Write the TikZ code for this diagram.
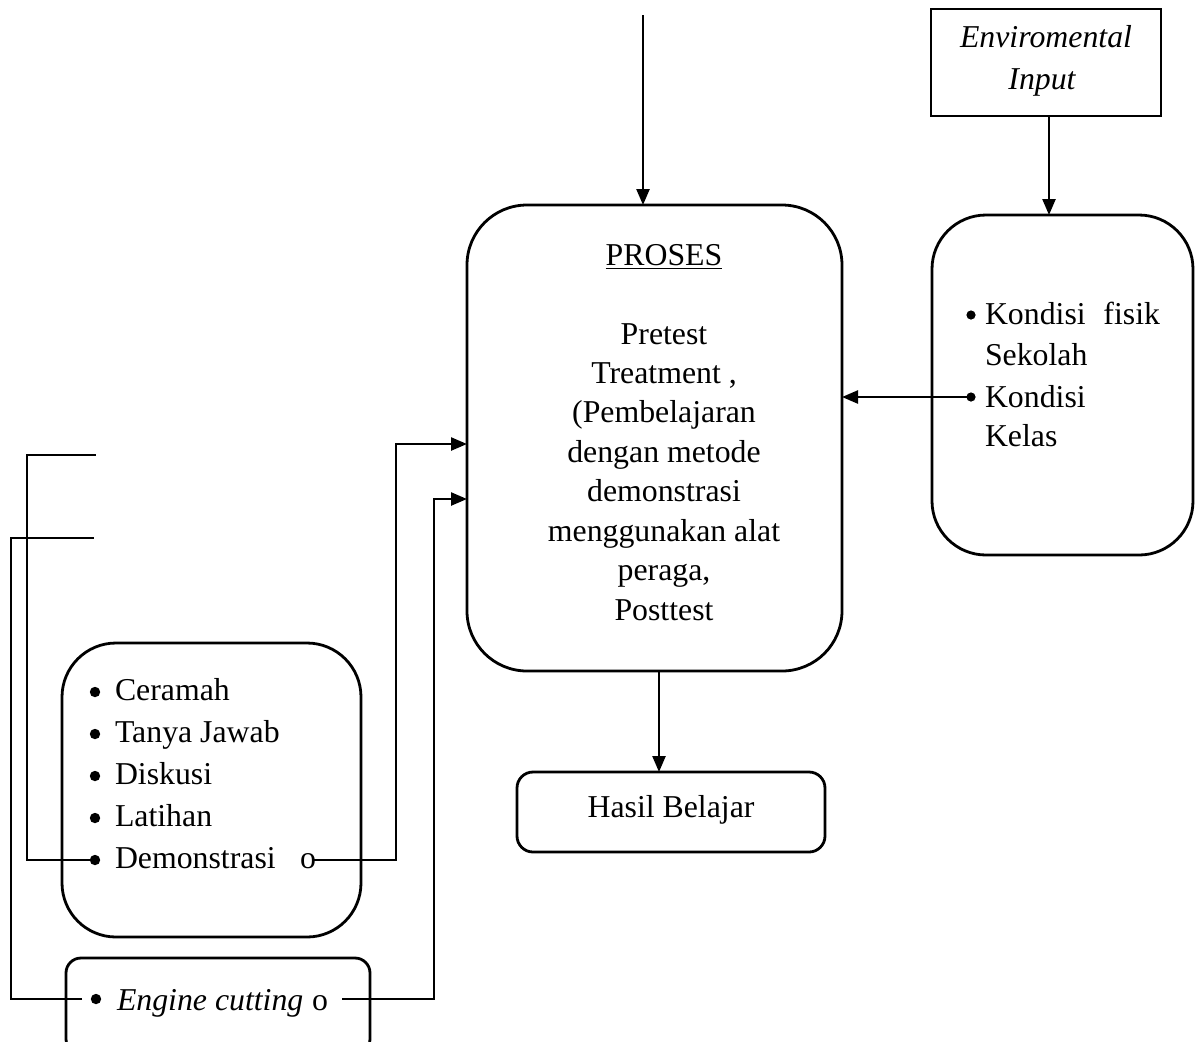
\documentclass[tikz,border=0pt]{standalone}
\usepackage{fontspec}
\setmainfont{Liberation Serif}
\usetikzlibrary{arrows.meta}
\begin{document}
\begin{tikzpicture}[x=0.5pt,y=-0.5pt,
  every node/.style={font=\fontsize{15.9}{20}\selectfont, inner sep=0pt, outer sep=0pt},
  boxr/.style={draw, line width=1.4pt, rounded corners=#1},
  arr/.style={line width=1.2pt, -{Triangle[length=8pt,width=6.5pt]}},
  thinln/.style={line width=0.7pt},
  lt/.style={anchor=base west},
  ct/.style={anchor=base},
  dot/.style={circle, fill, minimum size=5.2pt},
]
\useasboundingbox (0,0) rectangle (1200,1041);

% boxes
\node[boxr=30pt, minimum width=187.5pt, minimum height=233pt] (proses) at (654.5,438) {};
\node[boxr=8pt, minimum width=154pt, minimum height=40pt] (hasil) at (671,812) {};
\node[draw, line width=1.4pt, minimum width=115pt, minimum height=53.5pt] (env) at (1046,62.5) {};
\node[boxr=27pt, minimum width=130.5pt, minimum height=170pt] (kond) at (1062.5,385) {};
\node[boxr=27pt, minimum width=149.5pt, minimum height=147pt] (metode) at (211.5,790) {};
\node[boxr=7.5pt, minimum width=152pt, minimum height=48pt] (engine) at (218,1006) {};

% PROSES text
\node[ct] (ptitle) at (664,265) {\underline{PROSES}};
\foreach \t [count=\i] in {{Pretest},{Treatment ,},{(Pembelajaran},{dengan metode},{demonstrasi},{menggunakan alat},{peraga,},{Posttest}}
  \node[ct] (p\i) at (664,{344+(\i-1)*39.43}) {\t};

% Hasil Belajar
\node[ct] (htext) at (671,817) {Hasil Belajar};

% Environmental Input
\node[ct] (e1) at (1046,47) {\itshape Enviromental};
\node[ct] (e2) at (1042,89) {\itshape Input};

% Kondisi
\node[dot, minimum size=4.6pt] (kb1) at (971,315) {};
\node[lt] (k1) at (985,324) {Kondisi};
\node[anchor=base east] (k1b) at (1160,324) {fisik};
\node[lt] (k2) at (985,365) {Sekolah};
\node[dot, minimum size=4.6pt] (kb2) at (971,397) {};
\node[lt] (k3) at (985,407) {Kondisi};
\node[lt] (k4) at (985,446) {Kelas};

% Metode list
\foreach \t [count=\i] in {Ceramah,Tanya Jawab,Diskusi,Latihan}{
  \node[dot] (mb\i) at (95,{692+(\i-1)*42}) {};
  \node[lt] (m\i) at (115,{700+(\i-1)*42}) {\t};
}
\node[dot] (mb5) at (95,860) {};
\node[lt] (m5) at (115,868) {Demonstrasi};
\node[ct] (m5o) at (308,868) {o};

% Engine cutting
\node[dot] (eb) at (96,999) {};
\node[lt] (et) at (117,1010) {\itshape Engine cutting};
\node[ct] (eo) at (320,1010) {o};

% coordinates
\coordinate (topstart) at (643,15);
\coordinate (hx) at (659,0);
\coordinate (ex) at (1049,0);
\coordinate (dO) at (314,860);
\coordinate (j1) at (396,444);
\coordinate (eO) at (342,999);
\coordinate (j2) at (434,499);
\coordinate (c1) at (27,455);
\coordinate (c1e) at (96,455);
\coordinate (ebl) at (82,999);
\coordinate (c2) at (11,538);
\coordinate (c2e) at (94,538);

% arrows
\draw[arr] (topstart) -- (proses.north -| topstart);
\draw[arr] (proses.south -| hx) -- (hasil.north -| hx);
\draw[arr] (env.south -| ex) -- (kond.north -| ex);
\draw[arr] (kb2.center) -- (proses.east |- kb2);
\draw[arr] (dO) -| (j1) -- (proses.west |- j1);
\draw[arr] (eO) -| (j2) -- (proses.west |- j2);

% thin connectors
\draw[thinln] (mb5.center) -| (c1) -- (c1e);
\draw[thinln] (ebl) -| (c2) -- (c2e);
\end{tikzpicture}
\end{document}
